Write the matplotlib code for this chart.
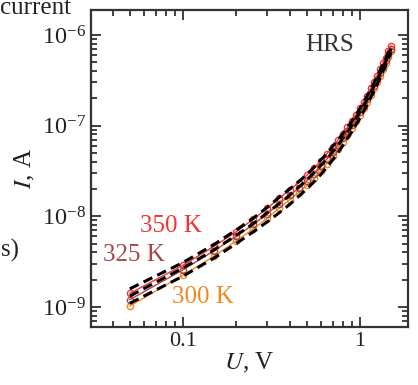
import numpy as np
import matplotlib
matplotlib.use("Agg")
import matplotlib.pyplot as plt
from matplotlib.ticker import LogLocator, LogFormatterMathtext, NullFormatter, FixedLocator, FixedFormatter

plt.rcParams['font.family'] = ['Liberation Serif', 'DejaVu Serif']
plt.rcParams['mathtext.fontset'] = 'stix'

# напряжение, В
U = [0.05, 0.10, 0.15, 0.20, 0.25, 0.30, 0.35, 0.40, 0.45, 0.50,
     0.55, 0.60, 0.65, 0.70, 0.75, 0.80, 0.85, 0.90, 0.95, 1.00,
     1.05, 1.10, 1.15, 1.20, 1.25, 1.30, 1.35, 1.40, 1.45, 1.50]

# lg I (A), экспериментальные точки
lgI_350 = [-8.85, -8.54, -8.33, -8.17, -8.03, -7.91, -7.80, -7.71, -7.63, -7.55,
           -7.47, -7.39, -7.31, -7.24, -7.16, -7.09, -7.02, -6.95, -6.88, -6.81,
           -6.74, -6.67, -6.59, -6.52, -6.45, -6.38, -6.31, -6.25, -6.18, -6.12]
lgI_325 = [-8.92, -8.59, -8.38, -8.22, -8.09, -7.97, -7.86, -7.77, -7.69, -7.61,
           -7.53, -7.45, -7.37, -7.29, -7.21, -7.14, -7.06, -6.99, -6.92, -6.85,
           -6.78, -6.71, -6.63, -6.56, -6.49, -6.42, -6.35, -6.28, -6.21, -6.15]
lgI_300 = [-8.99, -8.65, -8.44, -8.27, -8.14, -8.02, -7.91, -7.82, -7.74, -7.66,
           -7.58, -7.50, -7.42, -7.34, -7.26, -7.18, -7.10, -7.03, -6.95, -6.88,
           -6.81, -6.74, -6.66, -6.59, -6.52, -6.45, -6.38, -6.31, -6.24, -6.18]

# lg I (A), расчёт (пунктир)
fit_350 = [-8.80, -8.51, -8.31, -8.15, -8.02, -7.90, -7.79, -7.70, -7.62, -7.54,
           -7.46, -7.38, -7.31, -7.23, -7.16, -7.09, -7.02, -6.95, -6.88, -6.81,
           -6.74, -6.67, -6.60, -6.53, -6.46, -6.39, -6.32, -6.26, -6.19, -6.13]
fit_325 = [-8.88, -8.57, -8.37, -8.21, -8.08, -7.96, -7.86, -7.77, -7.68, -7.60,
           -7.52, -7.44, -7.37, -7.29, -7.22, -7.14, -7.07, -7.00, -6.92, -6.85,
           -6.78, -6.71, -6.64, -6.57, -6.50, -6.43, -6.36, -6.29, -6.22, -6.15]
fit_300 = [-8.96, -8.66, -8.46, -8.30, -8.17, -8.06, -7.96, -7.87, -7.78, -7.70,
           -7.62, -7.54, -7.46, -7.38, -7.30, -7.22, -7.14, -7.07, -6.99, -6.92,
           -6.84, -6.77, -6.69, -6.62, -6.55, -6.47, -6.40, -6.33, -6.26, -6.19]

labels = ['350 K', '325 K', '300 K']
colors = ['#f03535', '#a8484a', '#f08a20']

fig = plt.figure(figsize=(4.18, 3.85), dpi=100)
ax = fig.add_axes([0.218, 0.151, 0.758, 0.824])

U = np.array(U)
data = [lgI_350, lgI_325, lgI_300]
fits = [fit_350, fit_325, fit_300]

# точки
for lg, c in zip(data[::-1], colors[::-1]):
    ax.plot(U, 10 ** np.array(lg), '-o', color=c, lw=1.0, ms=4.5,
            mfc='none', mew=1.0, zorder=2)
# пунктир
for lg in fits:
    ax.plot(U, 10 ** np.array(lg), '--', color='black', lw=2.2,
            dashes=(3.2, 1.8), zorder=3)

ax.set_xscale('log')
ax.set_yscale('log')
ax.set_xlim(0.0302, 1.87)
ax.set_ylim(10 ** -9.22, 10 ** -5.72)

ax.xaxis.set_major_locator(FixedLocator([0.1, 1]))
ax.xaxis.set_major_formatter(FixedFormatter(['0.1', '1']))
ax.xaxis.set_minor_locator(LogLocator(base=10, subs=np.arange(2, 10)))
ax.xaxis.set_minor_formatter(NullFormatter())
ax.yaxis.set_major_locator(LogLocator(base=10))
ax.yaxis.set_major_formatter(LogFormatterMathtext())
ax.yaxis.set_minor_locator(LogLocator(base=10, subs=np.arange(2, 10)))
ax.yaxis.set_minor_formatter(NullFormatter())

ax.tick_params(which='both', direction='in', top=True, right=True,
               width=1.3, color='#333333', labelcolor='#222222')
ax.tick_params(axis='x', labelsize=16)
ax.tick_params(axis='y', labelsize=17.5)
ax.tick_params(which='major', length=7)
ax.tick_params(which='minor', length=4)
for s in ax.spines.values():
    s.set_linewidth(1.6)
    s.set_color('#333333')

ax.set_xlabel('$U$, V', fontsize=18, color='#222222', labelpad=0)
ax.set_ylabel('$I$, A', fontsize=18, color='#222222', labelpad=4)

ax.text(0.675, 0.888, 'HRS', transform=ax.transAxes, fontsize=18,
        color='#333333', va='center')
ax.text(0.155, 0.318, labels[0], transform=ax.transAxes, fontsize=18,
        color=colors[0], va='center')
ax.text(0.038, 0.227, labels[1], transform=ax.transAxes, fontsize=18,
        color=colors[1], va='center')
ax.text(0.256, 0.094, labels[2], transform=ax.transAxes, fontsize=18,
        color=colors[2], va='center')

# обрезанные подписи соседних панелей
fig.text(0.0, 0.964, 'current', fontsize=18, color='#222222', va='baseline', ha='left')
fig.text(0.003, 0.35, 's)', fontsize=18, color='#222222', va='center', ha='left')

fig.savefig('out.png', dpi=100)
